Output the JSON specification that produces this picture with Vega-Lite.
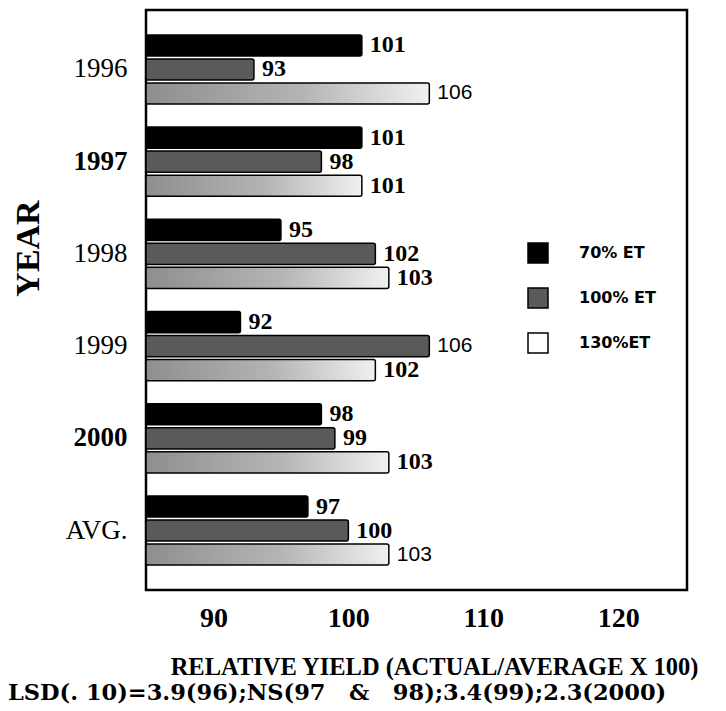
{
  "$schema": "https://vega.github.io/schema/vega-lite/v6.json",
  "width": 541,
  "height": 580,
  "autosize": {"type": "none"},
  "padding": {"left": 146, "top": 10, "right": 39, "bottom": 121},
  "background": "white",
  "config": {"view": {"stroke": "black", "strokeWidth": 2.5}, "font": "Liberation Serif"},
  "title": {
    "text": "LSD(.\u00a010)=3.9(96);NS(97\u00a0\u00a0 &\u00a0\u00a0 98);3.4(99);2.3(2000)",
    "orient": "bottom",
    "anchor": "start",
    "frame": "group",
    "dx": -138,
    "dy": 3,
    "offset": 0,
    "font": "DejaVu Serif",
    "fontSize": 22.5,
    "fontWeight": "bold",
    "color": "black"
  },
  "data": {
    "values": [
      {"year": "1996", "series": "70% ET", "value": 101},
      {"year": "1996", "series": "100% ET", "value": 93},
      {"year": "1996", "series": "130%ET", "value": 106},
      {"year": "1997", "series": "70% ET", "value": 101},
      {"year": "1997", "series": "100% ET", "value": 98},
      {"year": "1997", "series": "130%ET", "value": 101},
      {"year": "1998", "series": "70% ET", "value": 95},
      {"year": "1998", "series": "100% ET", "value": 102},
      {"year": "1998", "series": "130%ET", "value": 103},
      {"year": "1999", "series": "70% ET", "value": 92},
      {"year": "1999", "series": "100% ET", "value": 106},
      {"year": "1999", "series": "130%ET", "value": 102},
      {"year": "2000", "series": "70% ET", "value": 98},
      {"year": "2000", "series": "100% ET", "value": 99},
      {"year": "2000", "series": "130%ET", "value": 103},
      {"year": "AVG.", "series": "70% ET", "value": 97},
      {"year": "AVG.", "series": "100% ET", "value": 100},
      {"year": "AVG.", "series": "130%ET", "value": 103}
    ]
  },
  "encoding": {
    "y": {
      "field": "year",
      "type": "nominal",
      "sort": null,
      "scale": {"paddingInner": 0.25, "paddingOuter": 0.27},
      "axis": {
        "title": "YEAR",
        "titleFont": "Liberation Serif",
        "titleFontSize": 34,
        "titleFontWeight": "bold",
        "titleColor": "black",
        "titleX": -118,
        "titleY": 238,
        "titleAngle": -90,
        "titleAlign": "center",
        "titleBaseline": "middle",
        "labelFont": "Liberation Serif",
        "labelFontSize": 27,
        "labelColor": "black",
        "labelPadding": 19,
        "labelFontWeight": {"condition": {"test": "datum.value === '1997' || datum.value === '2000'", "value": "bold"}, "value": "normal"},
        "ticks": false,
        "domain": false,
        "grid": false
      }
    },
    "yOffset": {
      "field": "series",
      "type": "nominal",
      "sort": ["70% ET", "100% ET", "130%ET"],
      "scale": {"paddingInner": 0.12}
    },
    "x": {
      "field": "value",
      "type": "quantitative",
      "scale": {"domain": [85, 125.1], "nice": false, "zero": false},
      "axis": {
        "values": [90, 100, 110, 120],
        "title": "RELATIVE YIELD (ACTUAL/AVERAGE X 100)",
        "titleFont": "Liberation Serif",
        "titleFontSize": 24.5,
        "titleFontWeight": "bold",
        "titleColor": "black",
        "titleX": 288,
        "titleY": 77,
        "titleBaseline": "middle",
        "labelFont": "Liberation Serif",
        "labelFontSize": 28,
        "labelFontWeight": "bold",
        "labelColor": "black",
        "labelPadding": 14,
        "ticks": false,
        "domain": false,
        "grid": false
      }
    }
  },
  "layer": [
    {
      "mark": {"type": "bar", "stroke": "black", "strokeWidth": 1.5, "cornerRadiusEnd": 2, "clip": true},
      "encoding": {
        "x2": {"datum": 85},
        "fill": {
          "field": "series",
          "type": "nominal",
          "scale": {"domain": ["70% ET", "100% ET", "130%ET"], "range": ["black", "#5a5a5a", "white"]},
          "condition": {
            "test": "datum.series === '130%ET'",
            "value": {"gradient": "linear", "x1": 0, "x2": 1, "y1": 0, "y2": 0, "stops": [{"offset": 0, "color": "#8e8e8e"}, {"offset": 0.55, "color": "#b4b4b4"}, {"offset": 1, "color": "#f0f0f0"}]}
          },
          "legend": {
            "orient": "none",
            "legendX": 381,
            "legendY": 232,
            "title": null,
            "symbolType": "square",
            "symbolSize": 400,
            "symbolStrokeColor": "black",
            "symbolStrokeWidth": 1.5,
            "labelFont": "DejaVu Sans",
            "labelFontSize": 16,
            "labelFontWeight": "bold",
            "labelColor": "black",
            "labelOffset": 30,
            "rowPadding": 19
          }
        }
      }
    },
    {
      "transform": [{"filter": "!((datum.year === '1996' && datum.series === '130%ET') || (datum.year === '1999' && datum.series === '100% ET') || (datum.year === 'AVG.' && datum.series === '130%ET'))"}],
      "mark": {"type": "text", "align": "left", "baseline": "middle", "dx": 8, "font": "Liberation Serif", "fontWeight": "bold", "fontSize": 24, "color": "black"},
      "encoding": {"text": {"field": "value", "type": "quantitative"}}
    },
    {
      "transform": [{"filter": "(datum.year === '1996' && datum.series === '130%ET') || (datum.year === '1999' && datum.series === '100% ET') || (datum.year === 'AVG.' && datum.series === '130%ET')"}],
      "mark": {"type": "text", "align": "left", "baseline": "middle", "dx": 8, "font": "Liberation Sans", "fontSize": 21, "color": "black"},
      "encoding": {"text": {"field": "value", "type": "quantitative"}}
    }
  ]
}
